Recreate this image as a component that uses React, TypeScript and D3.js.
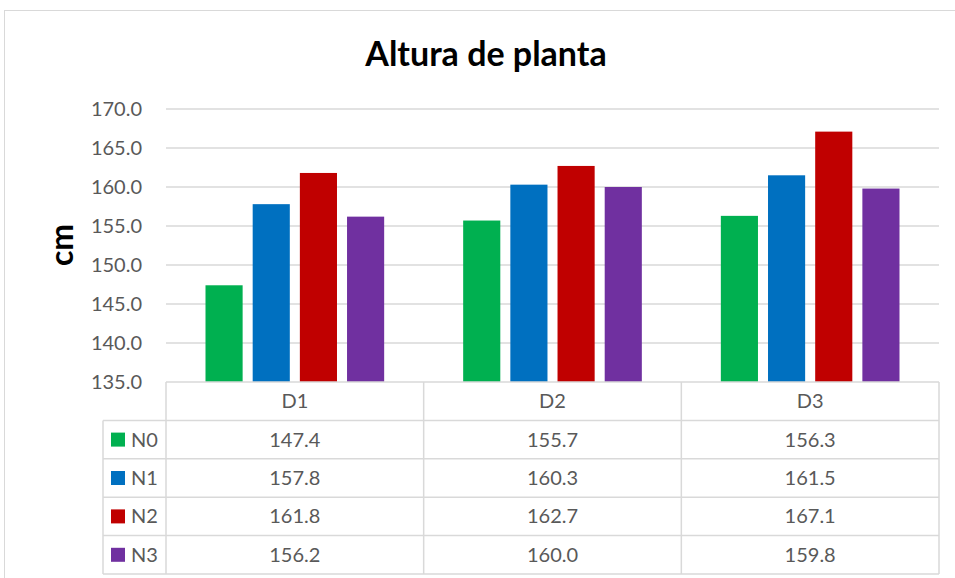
import React from 'react';
import * as d3 from 'd3';

const categories = ['D1', 'D2', 'D3'];
const seriesNames = ['N0', 'N1', 'N2', 'N3'];
const seriesColors = ['#00b050', '#0070c0', '#c00000', '#7030a0'];
const values = [
  [147.4, 155.7, 156.3],
  [157.8, 160.3, 161.5],
  [161.8, 162.7, 167.1],
  [156.2, 160.0, 159.8],
];
const yTicks = [135, 140, 145, 150, 155, 160, 165, 170];

const W = 955;
const H = 578;
const font = 'Lato, Carlito, "Open Sans", sans-serif';
const grid = '#d9d9d9';
const textColor = '#595959';

const App: React.FC = () => {
  const plot = { left: 166, right: 939, top: 109, bottom: 382 };
  const tableLeft = 103;
  const tableBottom = 574;

  const x = d3.scaleBand<string>().domain(categories).range([plot.left, plot.right]);
  const groupPad = 39.5;
  const x1 = d3
    .scaleBand<string>()
    .domain(seriesNames)
    .range([groupPad, x.bandwidth() - groupPad])
    .paddingInner(0.213);
  const y = d3.scaleLinear().domain([135, 170]).range([plot.bottom, plot.top]);
  const rows = d3
    .scaleBand<string>()
    .domain(['header', ...seriesNames])
    .range([plot.bottom, tableBottom]);

  const colEdges = [...categories.map((c) => x(c) as number), plot.right];

  return (
    <svg width={W} height={H} style={{ position: 'absolute', left: 0, top: 0, background: '#fff' }}>
      <rect x={4.5} y={10.5} width={W + 10} height={H + 10} fill="#fff" stroke="#d9d9d9" strokeWidth={1} />

      <text
        x={486}
        y={66}
        textAnchor="middle"
        fontFamily={font}
        fontWeight="bold"
        fontSize={34}
        fill="#000"
      >
        Altura de planta
      </text>

      {/* gridlines */}
      {yTicks.slice(1).map((t) => (
        <line key={t} x1={plot.left} x2={plot.right} y1={y(t)} y2={y(t)} stroke={grid} strokeWidth={1.5} />
      ))}

      {/* y tick labels */}
      {yTicks.map((t) => (
        <text
          key={t}
          x={142}
          y={y(t)}
          dy="0.35em"
          textAnchor="end"
          fontFamily={font}
          fontSize={20}
          fill={textColor}
        >
          {t.toFixed(1)}
        </text>
      ))}

      <text
        transform={`translate(73,245) rotate(-90)`}
        textAnchor="middle"
        fontFamily={font}
        fontWeight="bold"
        fontSize={32}
        fill="#000"
      >
        cm
      </text>

      {/* bars */}
      {categories.map((c, ci) => (
        <g key={c} transform={`translate(${x(c)},0)`}>
          {seriesNames.map((s, si) => (
            <rect
              key={s}
              x={x1(s)}
              y={y(values[si][ci])}
              width={x1.bandwidth()}
              height={y(135) - y(values[si][ci])}
              fill={seriesColors[si]}
            />
          ))}
        </g>
      ))}

      {/* data table */}
      <g stroke={grid} strokeWidth={1.5}>
        <line x1={plot.left} x2={plot.right} y1={plot.bottom} y2={plot.bottom} />
        {seriesNames.map((s) => (
          <line key={s} x1={tableLeft} x2={plot.right} y1={rows(s)} y2={rows(s)} />
        ))}
        <line x1={tableLeft} x2={plot.right} y1={tableBottom} y2={tableBottom} />
        <line x1={tableLeft} x2={tableLeft} y1={rows('N0')} y2={tableBottom} />
        {colEdges.map((e, i) => (
          <line key={i} x1={e} x2={e} y1={plot.bottom} y2={tableBottom} />
        ))}
      </g>

      {categories.map((c) => (
        <text
          key={c}
          x={(x(c) as number) + x.bandwidth() / 2}
          y={(rows('header') as number) + rows.bandwidth() / 2}
          dy="0.35em"
          textAnchor="middle"
          fontFamily={font}
          fontSize={20}
          fill={textColor}
        >
          {c}
        </text>
      ))}

      {seriesNames.map((s, si) => {
        const cy = (rows(s) as number) + rows.bandwidth() / 2;
        return (
          <g key={s}>
            <rect x={111} y={cy - 7} width={14} height={14} fill={seriesColors[si]} />
            <text x={131} y={cy} dy="0.35em" fontFamily={font} fontSize={20} fill={textColor}>
              {s}
            </text>
            {categories.map((c, ci) => (
              <text
                key={c}
                x={(x(c) as number) + x.bandwidth() / 2}
                y={cy}
                dy="0.35em"
                textAnchor="middle"
                fontFamily={font}
                fontSize={20}
                fill={textColor}
              >
                {values[si][ci].toFixed(1)}
              </text>
            ))}
          </g>
        );
      })}
    </svg>
  );
};

export default App;
